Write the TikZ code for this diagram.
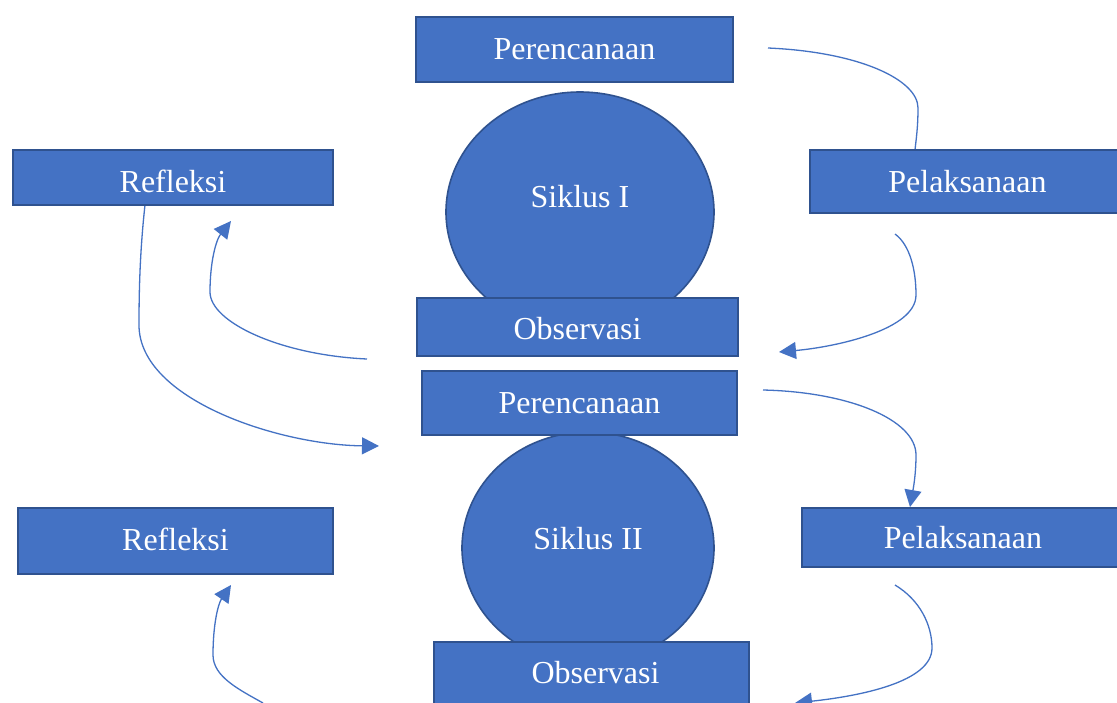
\documentclass[tikz,border=0pt]{standalone}
\usepackage{fontspec}
\setmainfont{Liberation Serif}
\usetikzlibrary{arrows.meta}
\definecolor{boxfill}{HTML}{4472C4}
\definecolor{boxline}{HTML}{2F528F}
\tikzset{
  stagebox/.style={draw=boxline, line width=1.6pt, fill=boxfill, text=white, font=\fontsize{32}{36}\selectfont, inner sep=0pt},
  cycletext/.style={text=white, font=\fontsize{32}{36}\selectfont},
  flow/.style={draw=boxfill, line width=1.3pt},
  flowarrow/.style={flow, -{Triangle[length=17pt,width=17pt]}}
}
\begin{document}
\begin{tikzpicture}[x=1pt,y=-1pt]
\useasboundingbox (0,0) rectangle (1117,702);
\clip (0,0) rectangle (1117,702);
\fill[white] (0,0) rectangle (1117,702);
% free connector ends
\coordinate (a1s) at (768,48);   \coordinate (a1e) at (915,150);
\coordinate (a2s) at (895,234);  \coordinate (a2e) at (779,352);
\coordinate (a3s) at (367,359);  \coordinate (a3e) at (231,221);
\coordinate (a4s) at (145,205);  \coordinate (a4e) at (379,446);
\coordinate (a5s) at (763,390);  \coordinate (a5e) at (910,507);
\coordinate (a6s) at (895,585);  \coordinate (a6e) at (795,703);
\coordinate (a7s) at (263,703);  \coordinate (a7e) at (231,585);
% connectors
\draw[flow] (a1s) .. controls (860,52) and (918,80) .. (918,108) .. controls (918,128) and (916,140) .. (a1e);
\draw[flowarrow] (a2s) .. controls (910,245) and (916,270) .. (916,295) .. controls (916,330) and (835,347) .. (a2e);
\draw[flowarrow] (a3s) .. controls (280,355) and (210,322) .. (210,292) .. controls (210,262) and (216,240) .. (a3e);
\draw[flowarrow] (a4s) .. controls (140,250) and (139,290) .. (139,325) .. controls (139,400) and (280,445) .. (a4e);
\draw[flowarrow] (a5s) .. controls (850,392) and (916,420) .. (916,455) .. controls (916,475) and (913,490) .. (a5e);
\draw[flowarrow] (a6s) .. controls (920,600) and (932,625) .. (932,648) .. controls (932,682) and (860,696) .. (a6e);
\draw[flowarrow] (a7s) .. controls (240,690) and (213,677) .. (213,655) .. controls (213,625) and (218,604) .. (a7e);
% cycles
\filldraw[draw=boxline, line width=1.6pt, fill=boxfill] (580,212) ellipse [x radius=134, y radius=120];
\node[cycletext] (sik1) at (580,197) {Siklus I};
\filldraw[draw=boxline, line width=1.6pt, fill=boxfill] (588,548) ellipse [x radius=126, y radius=116];
\node[cycletext] (sik2) at (588,539) {Siklus II};
% boxes
\node[stagebox, minimum width=317pt, minimum height=65pt] (per1) at (574.5,49.5) {Perencanaan};
\node[stagebox, minimum width=320pt, minimum height=55pt] (ref1) at (173,177.5) {\raisebox{-4pt}[\height][\depth]{Refleksi}};
\node[stagebox, minimum width=309pt, minimum height=63pt] (pel1) at (964.5,181.5) {\hspace*{6pt}Pelaksanaan};
\node[stagebox, minimum width=321pt, minimum height=58pt] (obs1) at (577.5,327) {\raisebox{-2pt}[\height][\depth]{Observasi}};
\node[stagebox, minimum width=315pt, minimum height=64pt] (per2) at (579.5,403) {Perencanaan};
\node[stagebox, minimum width=315pt, minimum height=66pt] (ref2) at (175.5,541) {\raisebox{2pt}[\height][\depth]{Refleksi}};
\node[stagebox, minimum width=317pt, minimum height=59pt] (pel2) at (960.5,537.5) {\hspace*{5pt}Pelaksanaan};
\node[stagebox, minimum width=315pt, minimum height=62pt] (obs2) at (591.5,673) {\hspace*{8pt}Observasi};
\end{tikzpicture}
\end{document}
